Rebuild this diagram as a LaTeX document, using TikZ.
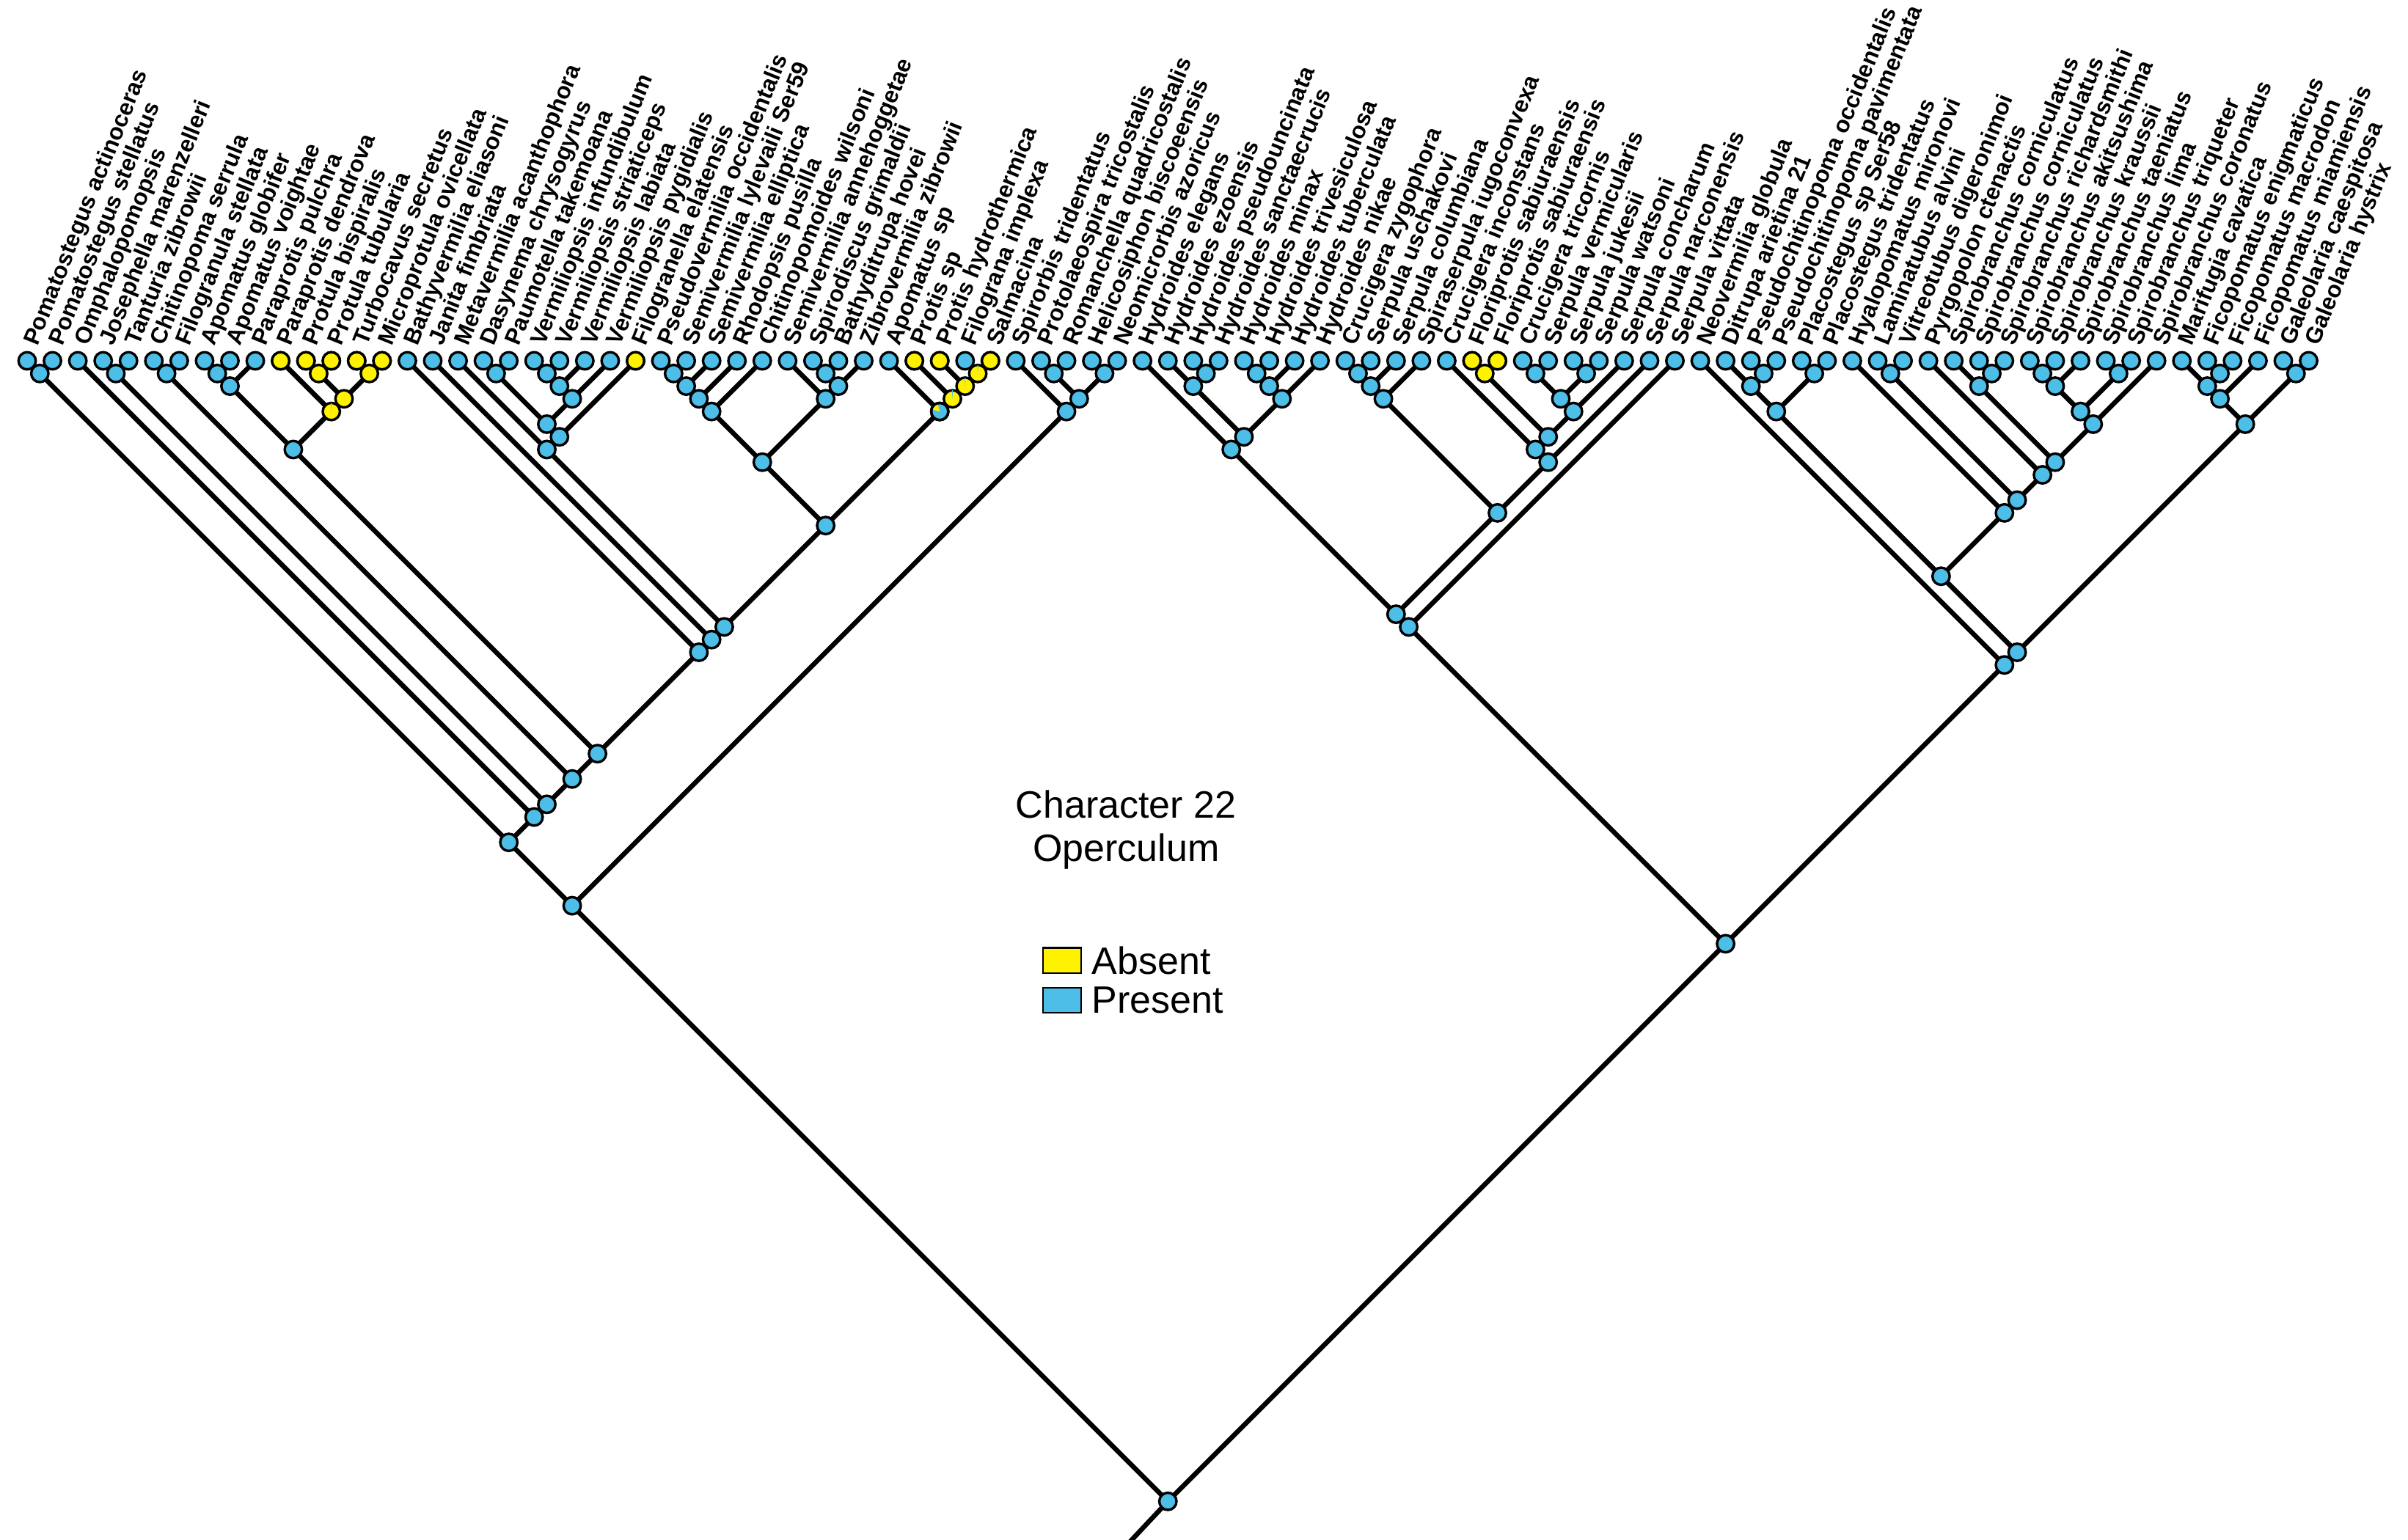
\documentclass[tikz,border=0pt]{standalone}
\usepackage{fontspec}
\setmainfont{Liberation Sans}
\usetikzlibrary{calc}
\definecolor{presblue}{RGB}{77,190,232}
\definecolor{absyellow}{RGB}{255,242,0}

\begin{document}
\begin{tikzpicture}[x=0.5cm, y=0.5cm,
  branch/.style={line width=2.7pt, line cap=round},
  present/.style={circle, draw, line width=1.4pt, fill=presblue, minimum size=3.4mm, inner sep=0pt},
  absent/.style={present, fill=absyellow},
  taxon/.style={anchor=base west, rotate=68, inner sep=0pt, font=\bfseries\fontsize{13}{15}\selectfont},
  legendbox/.style={draw, line width=1pt, minimum width=7.5mm, minimum height=5mm, inner sep=0pt},
  bigtext/.style={font=\fontsize{21.4}{26}\selectfont, inner sep=0pt}]

\useasboundingbox (-0.0706,-46.5) rectangle (94.92,14.236);

% tips
\foreach \i in {1,...,91} \coordinate (t\i) at (\i,0);

% clades, set from their outer tips
\foreach \a/\b in {1/2, 4/5, 6/7, 8/9, 8/10, 12/13, 14/15, 12/15, 11/15, 8/15,
  19/20, 21/22, 21/23, 21/24, 19/24, 19/25, 18/25,
  26/27, 26/28, 26/29, 26/30, 32/33, 32/34, 31/34, 26/34,
  38/39, 37/39, 36/39, 35/39, 26/39, 18/39, 17/39, 16/39,
  8/39, 6/39, 4/39, 3/39, 1/39, 41/42, 43/44, 41/44, 40/44, 1/44,
  47/48, 46/48, 49/50, 49/51, 49/52, 46/52, 45/52,
  53/54, 53/55, 53/56, 58/59, 60/61, 62/63, 60/63, 60/64, 58/64, 57/64, 57/65,
  53/65, 45/65, 45/66, 69/70, 68/70, 71/72, 68/72, 74/75,
  78/79, 77/79, 80/81, 80/82, 83/84, 80/84, 80/85, 77/85, 76/85, 74/85, 73/85, 68/85,
  87/88, 86/88, 86/89, 90/91, 86/91, 68/91, 67/91, 45/91, 1/91}
  \coordinate (c\a_\b) at ({(\a+\b)/2},{-(\b-\a)/2});

\coordinate (stem) at (44.5,-46.6);

% branches
\foreach \p/\l/\r in {c1_2/t1/t2, c4_5/t4/t5, c6_7/t6/t7, c8_9/t8/t9, c8_10/c8_9/t10,
  c12_13/t12/t13, c14_15/t14/t15, c12_15/c12_13/c14_15, c11_15/t11/c12_15, c8_15/c8_10/c11_15,
  c19_20/t19/t20, c21_22/t21/t22, c21_23/c21_22/t23, c21_24/c21_23/t24,
  c19_24/c19_20/c21_24, c19_25/c19_24/t25, c18_25/t18/c19_25,
  c26_27/t26/t27, c26_28/c26_27/t28, c26_29/c26_28/t29, c26_30/c26_29/t30,
  c32_33/t32/t33, c32_34/c32_33/t34, c31_34/t31/c32_34, c26_34/c26_30/c31_34,
  c38_39/t38/t39, c37_39/t37/c38_39, c36_39/t36/c37_39, c35_39/t35/c36_39,
  c26_39/c26_34/c35_39, c18_39/c18_25/c26_39, c17_39/t17/c18_39, c16_39/t16/c17_39,
  c8_39/c8_15/c16_39, c6_39/c6_7/c8_39, c4_39/c4_5/c6_39, c3_39/t3/c4_39, c1_39/c1_2/c3_39,
  c41_42/t41/t42, c43_44/t43/t44, c41_44/c41_42/c43_44, c40_44/t40/c41_44, c1_44/c1_39/c40_44,
  c47_48/t47/t48, c46_48/t46/c47_48, c49_50/t49/t50, c49_51/c49_50/t51, c49_52/c49_51/t52,
  c46_52/c46_48/c49_52, c45_52/t45/c46_52,
  c53_54/t53/t54, c53_55/c53_54/t55, c53_56/c53_55/t56, c58_59/t58/t59,
  c60_61/t60/t61, c62_63/t62/t63, c60_63/c60_61/c62_63, c60_64/c60_63/t64,
  c58_64/c58_59/c60_64, c57_64/t57/c58_64, c57_65/c57_64/t65, c53_65/c53_56/c57_65,
  c45_65/c45_52/c53_65, c45_66/c45_65/t66,
  c69_70/t69/t70, c68_70/t68/c69_70, c71_72/t71/t72, c68_72/c68_70/c71_72, c74_75/t74/t75,
  c78_79/t78/t79, c77_79/t77/c78_79, c80_81/t80/t81, c80_82/c80_81/t82, c83_84/t83/t84,
  c80_84/c80_82/c83_84, c80_85/c80_84/t85, c77_85/c77_79/c80_85, c76_85/t76/c77_85,
  c74_85/c74_75/c76_85, c73_85/t73/c74_85, c68_85/c68_72/c73_85,
  c87_88/t87/t88, c86_88/t86/c87_88, c86_89/c86_88/t89, c90_91/t90/t91, c86_91/c86_89/c90_91,
  c68_91/c68_85/c86_91, c67_91/t67/c68_91, c45_91/c45_66/c67_91, c1_91/c1_44/c45_91}
  \draw[branch] (\l) -- (\p) -- (\r);
\draw[branch] (c1_91) -- (stem);

% states at the tips
\foreach \i in {1,...,91} \node[present] (s\i) at (t\i) {};
\foreach \i in {11,12,13,14,15,25,36,37,39,58,59} \node[absent] (y\i) at (t\i) {};

% states at the clades
\foreach \a/\b in {12/13, 14/15, 12/15, 11/15, 38/39, 37/39, 36/39, 58/59}
  \node[absent] (k\a_\b) at (c\a_\b) {};
\foreach \c in {c11_15, c38_39, c37_39, c36_39}
  \fill[presblue] (\c) -- ++(87:1.7mm) arc[start angle=87, end angle=93, radius=1.7mm] -- cycle;
\foreach \a/\b in {1/2, 4/5, 6/7, 8/9, 8/10, 8/15,
  19/20, 21/22, 21/23, 21/24, 19/24, 19/25, 18/25,
  26/27, 26/28, 26/29, 26/30, 32/33, 32/34, 31/34, 26/34,
  35/39, 26/39, 18/39, 17/39, 16/39,
  8/39, 6/39, 4/39, 3/39, 1/39, 41/42, 43/44, 41/44, 40/44, 1/44,
  47/48, 46/48, 49/50, 49/51, 49/52, 46/52, 45/52,
  53/54, 53/55, 53/56, 60/61, 62/63, 60/63, 60/64, 58/64, 57/64, 57/65,
  53/65, 45/65, 45/66, 69/70, 68/70, 71/72, 68/72, 74/75,
  78/79, 77/79, 80/81, 80/82, 83/84, 80/84, 80/85, 77/85, 76/85, 74/85, 73/85, 68/85,
  87/88, 86/88, 86/89, 90/91, 86/91, 68/91, 67/91, 45/91, 1/91}
  \node[present] (k\a_\b) at (c\a_\b) {};
\fill[absyellow] (c35_39) -- ++(105:1.7mm) arc[start angle=105, end angle=165, radius=1.7mm] -- cycle;
\draw[line width=1.4pt] (c35_39) circle[radius=1.7mm];

% taxon names
\foreach \i/\name in {1/Pomatostegus actinoceras, 2/Pomatostegus stellatus, 3/Omphalopomopsis,
  4/Josephella marenzelleri, 5/Tanturia zibrowii, 6/Chitinopoma serrula, 7/Filogranula stellata,
  8/Apomatus globifer, 9/Apomatus voightae, 10/Paraprotis pulchra, 11/Paraprotis dendrova,
  12/Protula bispiralis, 13/Protula tubularia, 14/Turbocavus secretus, 15/Microprotula ovicellata,
  16/Bathyvermilia eliasoni, 17/Janita fimbriata, 18/Metavermilia acanthophora,
  19/Dasynema chrysogyrus, 20/Paumotella takemoana, 21/Vermiliopsis infundibulum,
  22/Vermiliopsis striaticeps, 23/Vermiliopsis labiata, 24/Vermiliopsis pygidialis,
  25/Filogranella elatensis, 26/Pseudovermilia occidentalis, 27/Semivermilia lylevaili Ser59,
  28/Semivermilia elliptica, 29/Rhodopsis pusilla, 30/Chitinopomoides wilsoni,
  31/Semivermilia annehoggetae, 32/Spirodiscus grimaldii, 33/Bathyditrupa hovei,
  34/Zibrovermilia zibrowii, 35/Apomatus sp, 36/Protis sp, 37/Protis hydrothermica,
  38/Filograna implexa, 39/Salmacina, 40/Spirorbis tridentatus, 41/Protolaeospira tricostalis,
  42/Romanchella quadricostalis, 43/Helicosiphon biscoeensis, 44/Neomicrorbis azoricus,
  45/Hydroides elegans, 46/Hydroides ezoensis, 47/Hydroides pseudouncinata,
  48/Hydroides sanctaecrucis, 49/Hydroides minax, 50/Hydroides trivesiculosa,
  51/Hydroides tuberculata, 52/Hydroides nikae, 53/Crucigera zygophora, 54/Serpula uschakovi,
  55/Serpula columbiana, 56/Spiraserpula iugoconvexa, 57/Crucigera inconstans,
  58/Floriprotis sabiuraensis, 59/Floriprotis sabiuraensis, 60/Crucigera tricornis,
  61/Serpula vermicularis, 62/Serpula jukesii, 63/Serpula watsoni, 64/Serpula concharum,
  65/Serpula narconensis, 66/Serpula vittata, 67/Neovermilia globula, 68/Ditrupa arietina 21,
  69/Pseudochitinopoma occidentalis, 70/Pseudochitinopoma pavimentata, 71/Placostegus sp Ser58,
  72/Placostegus tridentatus, 73/Hyalopomatus mironovi, 74/Laminatubus alvini,
  75/Vitreotubus digeronimoi, 76/Pyrgopolon ctenactis, 77/Spirobranchus corniculatus,
  78/Spirobranchus corniculatus, 79/Spirobranchus richardsmithi, 80/Spirobranchus akitsushima,
  81/Spirobranchus kraussii, 82/Spirobranchus taeniatus, 83/Spirobranchus lima,
  84/Spirobranchus triqueter, 85/Spirobranchus coronatus, 86/Marifugia cavatica,
  87/Ficopomatus enigmaticus, 88/Ficopomatus macrodon, 89/Ficopomatus miamiensis,
  90/Galeolaria caespitosa, 91/Galeolaria hystrix}
  \node[taxon] (n\i) at ({\i+0.4},0.55) {\name};

% character and legend
\node[bigtext, anchor=base] (charname) at (44.35,-18.05) {Character 22};
\node[bigtext, anchor=base] (charstate) at (44.35,-19.75) {Operculum};
\node[legendbox, fill=absyellow] (keyabs) at (41.83,-23.66) {};
\node[legendbox, fill=presblue] (keypres) at (41.83,-25.23) {};
\node[bigtext, anchor=west] (txtabs) at ($(keyabs.east)+(0.38,0)$) {Absent};
\node[bigtext, anchor=west] (txtpres) at ($(keypres.east)+(0.38,0)$) {Present};

\end{tikzpicture}
\end{document}
